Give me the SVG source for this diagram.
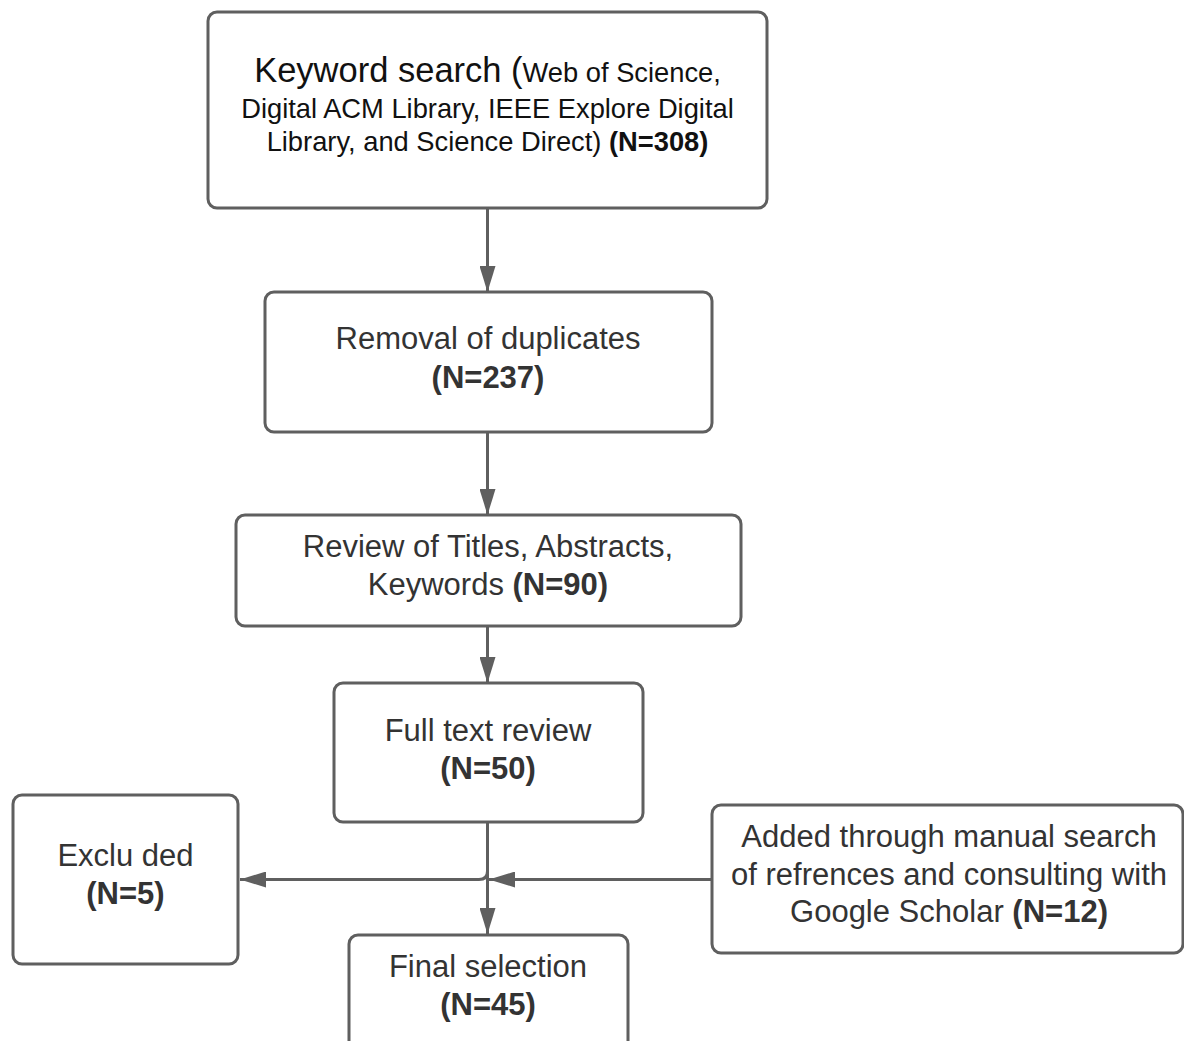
<svg xmlns="http://www.w3.org/2000/svg" width="1184" height="1041" viewBox="0 0 1184 1041">
<style>
.box{fill:#ffffff;stroke:#5f5f5f;stroke-width:3}
.t{font-family:"Liberation Sans",Arial,sans-serif;font-size:31px;fill:#333333;text-anchor:middle}
.k{fill:#111111;font-size:27.3px}
.b{font-weight:bold}
.c{fill:none;stroke:#5f5f5f;stroke-width:3}
</style>
<defs>
<marker id="ah" viewBox="0 0 26 16" refX="26" refY="8" markerWidth="26" markerHeight="16" markerUnits="userSpaceOnUse" orient="auto">
<path d="M0,0 L26,8 L0,16 Z" fill="#5f5f5f"/>
</marker>
</defs>
<rect width="1184" height="1041" fill="#ffffff"/>
<g id="connectors">
<path class="c" d="M487.5,208 V292" marker-end="url(#ah)"/>
<path class="c" d="M487.5,432 V515" marker-end="url(#ah)"/>
<path class="c" d="M487.5,626 V683" marker-end="url(#ah)"/>
<path class="c" d="M487.5,822 V934" marker-end="url(#ah)"/>
<path class="c" d="M487.5,822 V871 Q487.5,879.5 479,879.5 H240" marker-end="url(#ah)"/>
<path class="c" d="M712,879.5 H489" marker-end="url(#ah)"/>
</g>
<g id="keyword-search">
<rect class="box" x="208" y="12" width="559" height="196" rx="9"/>
<text class="t k" x="487.5" y="82"><tspan style="font-size:34.5px">Keyword search (</tspan>Web of Science,</text>
<text class="t k" x="487.5" y="118">Digital ACM Library, IEEE Explore Digital</text>
<text class="t k" x="487.5" y="151">Library, and Science Direct) <tspan class="b">(N=308)</tspan></text>
</g>
<g id="removal-duplicates">
<rect class="box" x="265" y="292" width="447" height="140" rx="9"/>
<text class="t" x="488" y="349">Removal of duplicates</text>
<text class="t b" x="488" y="388">(N=237)</text>
</g>
<g id="review-titles">
<rect class="box" x="236" y="515" width="505" height="111" rx="9"/>
<text class="t" x="488" y="557">Review of Titles, Abstracts,</text>
<text class="t" x="488" y="595">Keywords <tspan class="b">(N=90)</tspan></text>
</g>
<g id="full-text-review">
<rect class="box" x="334" y="683" width="309" height="139" rx="9"/>
<text class="t" x="488" y="741">Full text review</text>
<text class="t b" x="488" y="779">(N=50)</text>
</g>
<g id="excluded">
<rect class="box" x="13" y="795" width="225" height="169" rx="9"/>
<text class="t" x="125.5" y="866">Exclu ded</text>
<text class="t b" x="125.5" y="904">(N=5)</text>
</g>
<g id="added-manual">
<rect class="box" x="712" y="805" width="471" height="148" rx="9"/>
<text class="t" x="949" y="847">Added through manual search</text>
<text class="t" x="949" y="885">of refrences and consulting with</text>
<text class="t" x="949" y="922">Google Scholar <tspan class="b">(N=12)</tspan></text>
</g>
<g id="final-selection">
<rect class="box" x="349" y="935" width="279" height="130" rx="9"/>
<text class="t" x="488" y="977">Final selection</text>
<text class="t b" x="488" y="1015">(N=45)</text>
</g>
</svg>
